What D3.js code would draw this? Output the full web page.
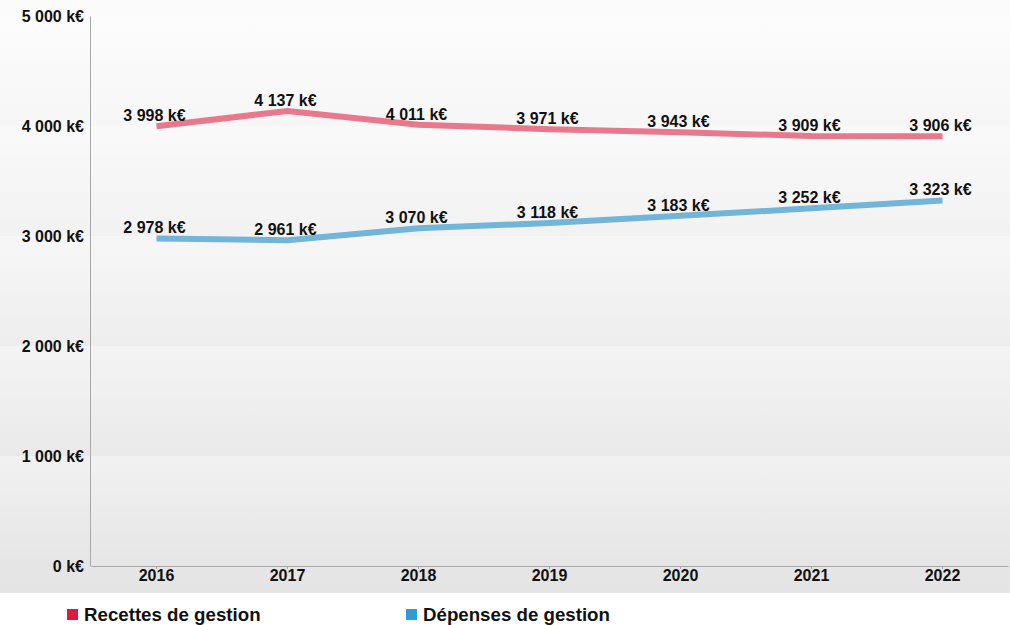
<!DOCTYPE html>
<html>
<head>
<meta charset="utf-8">
<script src="https://cdn.jsdelivr.net/npm/d3@7"></script>
<style>
  body { margin: 0; background: #fff; }
  svg { display: block; font-family: "Liberation Sans", Arial, sans-serif; }
</style>
</head>
<body>
<svg id="svg-main"></svg>
<script>
const years = ["2016", "2017", "2018", "2019", "2020", "2021", "2022"];
const recettes = [3998, 4137, 4011, 3971, 3943, 3909, 3906];
const depenses = [2978, 2961, 3070, 3118, 3183, 3252, 3323];
const yTicks = [0, 1000, 2000, 3000, 4000, 5000];
const seriesNames = ["Recettes de gestion", "Dépenses de gestion"];

var Dims = {
    Width: 1010,
    Height: 625,
    BgHeight: 593,
    Plot: { Left: 91, Right: 1008, Top: 16, Bottom: 566 }
};

var fmt = function (v) {
    return String(v).replace(/\B(?=(\d{3})+(?!\d))/g, " ") + " k€";
};

var svg = d3.select("#svg-main")
    .attr("width", Dims.Width)
    .attr("height", Dims.Height);

var defs = svg.append("defs");
var bg = defs.append("linearGradient").attr("id", "bg-grad")
    .attr("x1", 0).attr("y1", 0).attr("x2", 0).attr("y2", 1);
bg.append("stop").attr("offset", "0%").attr("stop-color", "#fbfbfb");
bg.append("stop").attr("offset", "100%").attr("stop-color", "#e4e4e4");

var band = defs.append("linearGradient").attr("id", "band-grad")
    .attr("x1", 0).attr("y1", 0).attr("x2", 0).attr("y2", 1);
band.append("stop").attr("offset", "0%").attr("stop-color", "#fff").attr("stop-opacity", 0.35);
band.append("stop").attr("offset", "100%").attr("stop-color", "#fff").attr("stop-opacity", 0);

svg.append("rect")
    .attr("x", 0).attr("y", 0)
    .attr("width", Dims.Width).attr("height", Dims.BgHeight)
    .attr("fill", "url(#bg-grad)");

var x = d3.scaleBand()
    .domain(years)
    .range([Dims.Plot.Left, Dims.Plot.Right]);

var y = d3.scaleLinear()
    .domain([0, 5000])
    .range([Dims.Plot.Bottom, Dims.Plot.Top]);

// subtle bands between gridlines
svg.append("g")
    .selectAll("rect")
    .data(yTicks.slice(0, -1))
    .enter()
    .append("rect")
    .attr("x", 0)
    .attr("width", Dims.Width)
    .attr("y", d => y(d + 1000))
    .attr("height", d => y(d) - y(d + 1000))
    .attr("fill", "url(#band-grad)");

// y axis
var yAxis = svg.append("g")
    .attr("transform", `translate(${Dims.Plot.Left - 1},0)`)
    .call(d3.axisLeft(y).tickValues(yTicks).tickSize(0).tickPadding(6).tickFormat(fmt));
yAxis.select(".domain").attr("stroke", "#a8a8a8");
yAxis.selectAll("text")
    .attr("fill", "#111")
    .style("font-size", "16px")
    .style("font-weight", "bold");

// x axis
var xAxis = svg.append("g")
    .attr("transform", `translate(0,${Dims.Plot.Bottom})`)
    .call(d3.axisBottom(x).tickSize(3).tickSizeOuter(0).tickPadding(1));
xAxis.select(".domain").attr("stroke", "#a8a8a8");
xAxis.selectAll(".tick line").attr("stroke", "#a8a8a8");
xAxis.selectAll("text")
    .attr("fill", "#111")
    .style("font-size", "16px")
    .style("font-weight", "bold");

var cx = d => x(d) + x.bandwidth() / 2;

var series = [
    { name: seriesNames[0], values: recettes, line: "#e8788c", legend: "#e0193f" },
    { name: seriesNames[1], values: depenses, line: "#72b5d8", legend: "#2b9cd6" }
];

var line = d3.line()
    .x((d, i) => cx(years[i]))
    .y(d => y(d));

series.forEach(function (s) {
    svg.append("path")
        .datum(s.values)
        .attr("d", line)
        .attr("fill", "none")
        .attr("stroke", s.line)
        .attr("stroke-width", 6);

    svg.append("g")
        .selectAll("text")
        .data(s.values)
        .enter()
        .append("text")
        .attr("x", (d, i) => cx(years[i]) - 2)
        .attr("y", d => y(d) - 5)
        .attr("text-anchor", "middle")
        .attr("fill", "#111")
        .style("font-size", "16px")
        .style("font-weight", "bold")
        .text(fmt);
});

// legend
var legendX = [67, 406];
var lg = svg.append("g")
    .selectAll("g")
    .data(series)
    .enter()
    .append("g")
    .attr("transform", (d, i) => `translate(${legendX[i]},609)`);
lg.append("rect")
    .attr("width", 11).attr("height", 11)
    .attr("fill", d => d.legend);
lg.append("text")
    .attr("x", 17).attr("y", 12)
    .attr("fill", "#111")
    .style("font-size", "18.7px")
    .style("font-weight", "bold")
    .text(d => d.name);
</script>
</body>
</html>
